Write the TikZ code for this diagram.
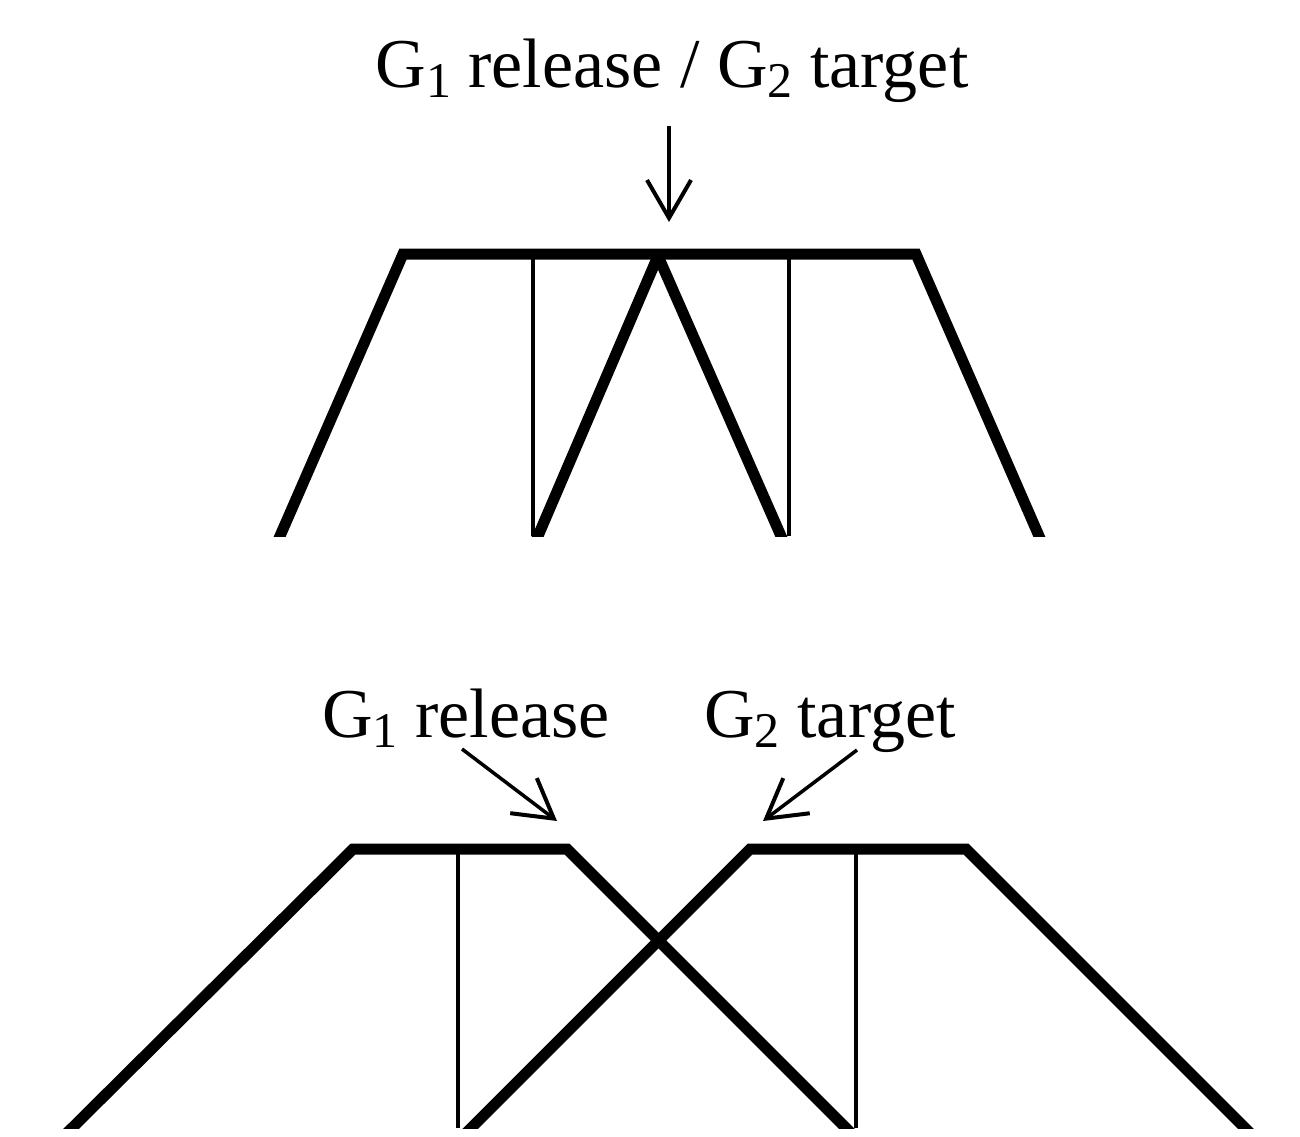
\documentclass[tikz,border=0pt]{standalone}
\usepackage{fontspec}
\setmainfont{Liberation Serif}
\usetikzlibrary{arrows.meta,calc}
% lowered index digit, as in G_1
\newcommand\lowidx[1]{\raisebox{-10pt}{\fontsize{50}{60}\selectfont #1}}

\begin{document}
\begin{tikzpicture}[x=1pt,y=-1pt,
  thickline/.style={line width=11pt,line join=miter},
  thinline/.style={line width=3.5pt},
  pointer/.style={line width=3.5pt,-{Straight Barb[length=38pt,width=44pt,line width=4pt]}},
  lbl/.style={inner sep=0pt,anchor=base,font=\fontsize{70}{84}\selectfont}]
\useasboundingbox (0,0) rectangle (1300,1136);

% ---------- upper sketch: both sets share the same peak ----------
\coordinate (a1) at (280,536);
\coordinate (a2) at (403,254);
\coordinate (a3) at (916,254);
\coordinate (a4) at (1039,536);
\coordinate (v1) at (538,536);
\coordinate (v2) at (658,256);
\coordinate (v3) at (781,536);
\coordinate (m1t) at (533,254);
\coordinate (m1b) at (533,536);
\coordinate (m2t) at (789,254);
\coordinate (m2b) at (789,536);

\begin{scope}
  \clip (0,0) rectangle (1300,536);
  \draw[thickline] ($(a2)!1.1!(a1)$) -- (a2) -- (a3) -- ($(a3)!1.1!(a4)$);
  \draw[thickline,line join=round] ($(v2)!1.1!(v1)$) -- (v2) -- ($(v2)!1.1!(v3)$);
  \draw[thinline] (m1t) -- (m1b);
  \draw[thinline] (m2t) -- (m2b);
\end{scope}

\node[lbl] (toplabel) at (672,87) {G\lowidx{1} release / G\lowidx{2} target};
\coordinate (topfrom) at (669,126);
\coordinate (topto) at (669,222);
\draw[pointer] (topfrom) -- (topto);

% ---------- lower sketch: two overlapping sets ----------
\coordinate (b1) at (72,1128);
\coordinate (b2) at (353,849);
\coordinate (b3) at (567,849);
\coordinate (b4) at (846,1128);
\coordinate (c1) at (471,1128);
\coordinate (c2) at (750,849);
\coordinate (c3) at (966,849);
\coordinate (c4) at (1245,1128);
\coordinate (n1t) at (458,849);
\coordinate (n1b) at (458,1128);
\coordinate (n2t) at (856,849);
\coordinate (n2b) at (856,1128);

\begin{scope}
  \clip (0,0) rectangle (1300,1128);
  \draw[thickline] ($(b2)!1.1!(b1)$) -- (b2) -- (b3) -- ($(b3)!1.1!(b4)$);
  \draw[thickline] ($(c2)!1.1!(c1)$) -- (c2) -- (c3) -- ($(c3)!1.1!(c4)$);
  \draw[thinline] (n1t) -- (n1b);
  \draw[thinline] (n2t) -- (n2b);
\end{scope}

\node[lbl] (rel) at (466,737) {G\lowidx{1} release};
\node[lbl] (tgt) at (830,737) {G\lowidx{2} target};
\coordinate (relfrom) at (462,749);
\coordinate (relto) at (557,821);
\coordinate (tgtfrom) at (857,750);
\coordinate (tgtto) at (763,821);
\draw[pointer] (relfrom) -- (relto);
\draw[pointer] (tgtfrom) -- (tgtto);
\end{tikzpicture}
\end{document}
